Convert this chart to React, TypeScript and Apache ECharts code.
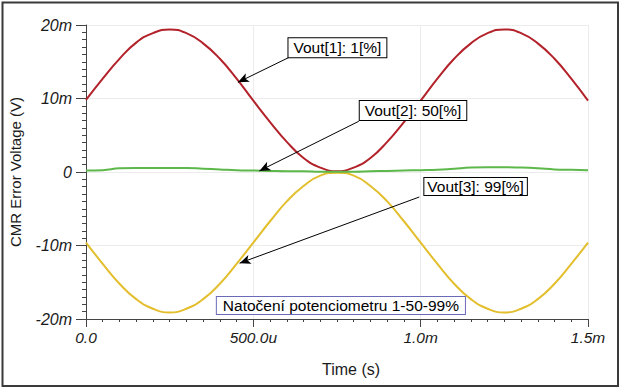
import React, { useEffect, useRef } from 'react';
import * as echarts from 'echarts';

// time in microseconds, values in millivolts
const timeUs = [0, 50, 100, 150, 200, 250, 300, 350, 400, 450, 500, 550, 600, 650, 700, 750, 800, 850, 900, 950, 1000, 1050, 1100, 1150, 1200, 1250, 1300, 1350, 1400, 1450, 1500];
const vout1 = [9.8, 12.7, 15.4, 17.6, 18.9, 19.4, 18.9, 17.5, 15.4, 12.7, 9.7, 6.8, 4.1, 1.9, 0.6, 0.1, 0.6, 1.9, 4.1, 6.8, 9.7, 12.7, 15.4, 17.5, 18.9, 19.4, 18.9, 17.5, 15.4, 12.7, 9.7];
const vout2 = [0.2, 0.25, 0.5, 0.55, 0.55, 0.55, 0.55, 0.45, 0.35, 0.25, 0.2, 0.15, 0.1, 0.1, 0.05, 0.05, 0.05, 0.1, 0.15, 0.2, 0.25, 0.3, 0.45, 0.6, 0.65, 0.65, 0.6, 0.5, 0.35, 0.3, 0.25];
const vout3 = [-9.6, -12.5, -15.2, -17.3, -18.6, -19.1, -18.6, -17.3, -15.2, -12.5, -9.6, -6.7, -4.0, -1.9, -0.5, -0.1, -0.5, -1.9, -4.0, -6.7, -9.6, -12.5, -15.2, -17.3, -18.6, -19.1, -18.6, -17.3, -15.2, -12.5, -9.6];

const xTicks = [0, 500, 1000, 1500];
const xTickLabels = ['0.0', '500.0u', '1.0m', '1.5m'];
const yTicks = [-20, -10, 0, 10, 20];
const yTickLabels = ['-20m', '-10m', '0', '10m', '20m'];

const seriesNames = ['Vout[1]: 1[%]', 'Vout[2]: 50[%]', 'Vout[3]: 99[%]'];
const seriesColors = ['#b3222a', '#5db84b', '#e3be2d'];
const seriesData = [vout1, vout2, vout3];

// annotation boxes (top-left corner) and arrows, in data units (us, mV)
const boxAnchors = [[605, 18.2], [818, 9.66], [1011, -0.82]];
const boxPadding = [[1, 5], [1, 5], [0, 3]];
const arrowFrom = [[607, 15.6], [815, 6.9], [996, -3.4]];
const arrowTo = [[454, 12.2], [518, 0.15], [459, -12.4]];
const noteText = 'Natočení potenciometru 1-50-99%';
const noteAnchor = [391, -17.0];

const FONT = '"Liberation Sans", Arial, sans-serif';

export default function App() {
  const ref = useRef<HTMLDivElement>(null);
  useEffect(() => {
    if (!ref.current) return;
    const chart = echarts.init(ref.current, null, { renderer: 'svg' });
    chart.setOption({
      animation: false,
      backgroundColor: '#fff',
      textStyle: { fontFamily: FONT },
      grid: { left: 82, right: 34, top: 25, bottom: 70 },
      xAxis: {
        type: 'value',
        min: 0,
        max: 1500,
        interval: 500,
        axisLine: { show: true, onZero: false, lineStyle: { color: '#444', width: 1 } },
        axisTick: { show: true, length: 8, lineStyle: { color: '#444' } },
        minorTick: { show: true, splitNumber: 10, length: 3, lineStyle: { color: '#444' } },
        splitLine: { show: true, lineStyle: { color: '#ececec', width: 1 } },
        axisLabel: {
          margin: 10,
          fontSize: 15.5,
          fontStyle: 'italic',
          color: '#1a1a1a',
          fontFamily: FONT,
          formatter: (v: number) => {
            const i = xTicks.indexOf(v);
            return i >= 0 ? xTickLabels[i] : '';
          },
        },
      },
      yAxis: {
        type: 'value',
        min: -20,
        max: 20,
        interval: 10,
        name: 'CMR Error Voltage (V)',
        nameLocation: 'middle',
        nameGap: 63,
        nameRotate: 90,
        nameTextStyle: { fontSize: 15, color: '#1a1a1a', fontFamily: FONT },
        axisLine: { show: true, onZero: false, lineStyle: { color: '#444', width: 1 } },
        axisTick: { show: true, length: 10, lineStyle: { color: '#444' } },
        minorTick: { show: true, splitNumber: 10, length: 4, lineStyle: { color: '#444' } },
        splitLine: { show: true, lineStyle: { color: '#ececec', width: 1 } },
        axisLabel: {
          margin: 14,
          fontSize: 16,
          fontStyle: 'italic',
          color: '#1a1a1a',
          fontFamily: FONT,
          formatter: (v: number) => {
            const i = yTicks.indexOf(v);
            return i >= 0 ? yTickLabels[i] : '';
          },
        },
      },
      series: seriesNames.map((name, i) => ({
        name,
        type: 'line',
        data: timeUs.map((t, j) => [t, seriesData[i][j]]),
        smooth: true,
        showSymbol: false,
        lineStyle: { color: seriesColors[i], width: 2 },
        itemStyle: { color: seriesColors[i] },
        z: i === 1 ? 3 : 2,
        markLine: {
          silent: true,
          animation: false,
          symbol: ['none', 'arrow'],
          symbolSize: [7, 11],
          label: { show: false },
          lineStyle: { color: '#000', width: 1, type: 'solid' },
          emphasis: { disabled: true },
          data: [[{ coord: arrowFrom[i] }, { coord: arrowTo[i] }]],
          z: 10,
        },
      })),
    });

    const toPx = (p: number[]) => chart.convertToPixel({ gridIndex: 0 }, p) as number[];
    const graphics: any[] = [
      {
        type: 'rect',
        shape: { x: 2.5, y: 2.5, width: 615.5, height: 383.5 },
        style: { fill: 'none', stroke: '#3a3a3a', lineWidth: 2 },
        silent: true,
        z: 100,
      },
      {
        type: 'text',
        x: 351,
        y: 369,
        style: { text: 'Time (s)', fontSize: 16, fontFamily: FONT, fill: '#1a1a1a', align: 'center', verticalAlign: 'middle' },
        silent: true,
      },
    ];
    seriesNames.forEach((name, i) => {
      const [x, y] = toPx(boxAnchors[i]);
      graphics.push({
        type: 'text',
        x,
        y,
        z: 50,
        silent: true,
        style: {
          text: name,
          fontSize: 15.5,
          fontFamily: FONT,
          fill: '#000',
          align: 'left',
          verticalAlign: 'top',
          lineHeight: 17,
          backgroundColor: '#fff',
          borderColor: '#000',
          borderWidth: 1,
          padding: [boxPadding[i][0], boxPadding[i][1]],
        },
      });
    });
    const [nx, ny] = toPx(noteAnchor);
    graphics.push({
      type: 'text',
      x: nx,
      y: ny,
      z: 50,
      silent: true,
      style: {
        text: noteText,
        fontSize: 15.5,
        fontFamily: FONT,
        fill: '#000',
        align: 'left',
        verticalAlign: 'top',
        lineHeight: 17,
        backgroundColor: '#fff',
        borderColor: '#6a6ab8',
        borderWidth: 1,
        padding: [0, 6],
      },
    });
    chart.setOption({ graphic: graphics });

    return () => chart.dispose();
  }, []);
  return <div ref={ref} style={{ position: 'fixed', left: 0, top: 0, width: 622, height: 389 }} />;
}
